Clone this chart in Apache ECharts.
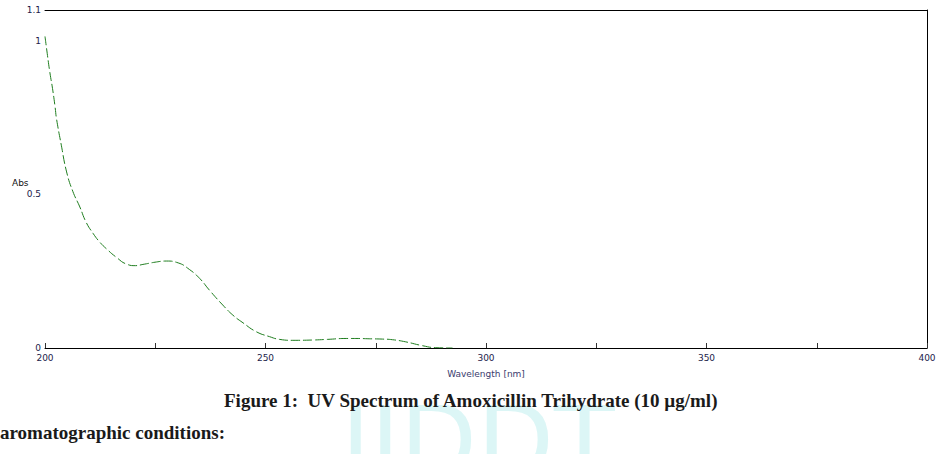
<!DOCTYPE html>
<html>
<head>
<meta charset="utf-8">
<script src="https://cdn.jsdelivr.net/npm/echarts@6/dist/echarts.min.js"></script>
<style>
  html, body { margin: 0; padding: 0; background: #fff; overflow: hidden; }
  #wrap { position: relative; width: 943px; height: 454px; }
  #mark {
    position: absolute; left: 341px; top: 405px; height: 49px; overflow: hidden;
    font-family: 'DejaVu Sans', sans-serif; font-weight: normal;
    font-size: 100px; color: #dcf6f6; line-height: 74px;
  }
  #chart { position: absolute; left: 0; top: 0; width: 943px; height: 454px; }
  .cap {
    position: absolute; font-family: 'Liberation Serif', 'DejaVu Serif', serif;
    font-weight: bold; color: #1a1a1a; white-space: pre; line-height: 22px;
  }
  #figcap { left: 224px; top: 390px; font-size: 19px; }
  #cond { left: 0; top: 422px; font-size: 19px; }
  #abs {
    position: absolute; left: 12px; top: 178px; font-family: 'DejaVu Sans', sans-serif;
    font-size: 9px; color: #111; line-height: 11px;
  }
</style>
</head>
<body>
<div id="wrap">
  <div id="mark">IJDDT</div>
  <div id="chart"></div>
  <div id="abs">Abs</div>
  <div class="cap" id="figcap">Figure 1:  UV Spectrum of Amoxicillin Trihydrate (10 µg/ml)</div>
  <div class="cap" id="cond">aromatographic conditions:</div>
</div>
<script>
// spectrum
const wavelength = [200, 200.5, 201.1, 201.7, 202.3, 202.6, 203.7, 204.9, 206.3, 207.9, 209.3, 210.9,
  212.4, 214.0, 216.2, 218.5, 220.5, 222.2, 225.3, 227.5, 230.2, 232.8, 235.1, 237.3, 240.3,
  242.6, 244.9, 247.9, 250.9, 253.2, 256.2, 260.7, 264.0, 268.3, 270.5, 273.5, 276.5, 278.8,
  281.8, 285.6, 288.6, 292.4]
const absorbance = [1.014, 0.959, 0.897, 0.845, 0.783, 0.747, 0.66, 0.573, 0.51, 0.459, 0.41, 0.373,
  0.345, 0.322, 0.295, 0.273, 0.268, 0.272, 0.280, 0.283, 0.277, 0.255, 0.226, 0.188, 0.140,
  0.107, 0.082, 0.053, 0.037, 0.028, 0.025, 0.026, 0.028, 0.031, 0.031, 0.030, 0.029, 0.027,
  0.020, 0.0075, 0.001, 0]
const xLabels = [200, 250, 300, 350, 400]
const yLabels = [0, 0.5, 1, 1.1]

let chart = echarts.init(document.getElementById('chart'), null, {renderer: 'svg'})
let lbl = {color: '#1c1c4a', fontSize: 9, fontFamily: 'DejaVu Sans'}
let option = {
  animation: false,
  grid: {left: 45, right: 16, top: 10, bottom: 106},
  xAxis: [{
    type: 'value', min: 200, max: 400, interval: 25,
    name: 'Wavelength [nm]', nameLocation: 'middle', nameGap: 21,
    nameTextStyle: {color: '#3b3b6e', fontSize: 9, fontFamily: 'DejaVu Sans'},
    axisLine: {lineStyle: {color: '#000', width: 1}},
    axisTick: {inside: true, length: 5, lineStyle: {color: '#333'}},
    splitLine: {show: false},
    axisLabel: Object.assign({}, lbl, {
      margin: 5,
      formatter: v => xLabels.indexOf(v) >= 0 ? String(v) : ''
    })
  }, {
    type: 'value', min: 200, max: 400, position: 'top',
    axisLine: {show: true, onZero: false, lineStyle: {color: '#000', width: 1}},
    axisTick: {show: false}, axisLabel: {show: false}, splitLine: {show: false}
  }],
  yAxis: [{
    type: 'value', min: 0, max: 1.1, interval: 0.5,
    axisLine: {show: false}, axisTick: {show: false}, splitLine: {show: false},
    axisLabel: Object.assign({}, lbl, {
      margin: 4, showMaxLabel: true,
      formatter: v => yLabels.indexOf(+v.toFixed(2)) >= 0 ? String(+v.toFixed(2)) : ''
    })
  }, {
    type: 'value', min: 0, max: 1.1, position: 'right',
    axisLine: {show: true, onZero: false, lineStyle: {color: '#000', width: 1}},
    axisTick: {show: false}, axisLabel: {show: false}, splitLine: {show: false}
  }],
  series: [{
    type: 'line',
    smooth: true,
    symbol: 'none',
    lineStyle: {color: '#1e7d1e', width: 1, type: [9, 3]},
    data: wavelength.map((w, i) => [w, absorbance[i]])
  }]
}
chart.setOption(option)
</script>
</body>
</html>
